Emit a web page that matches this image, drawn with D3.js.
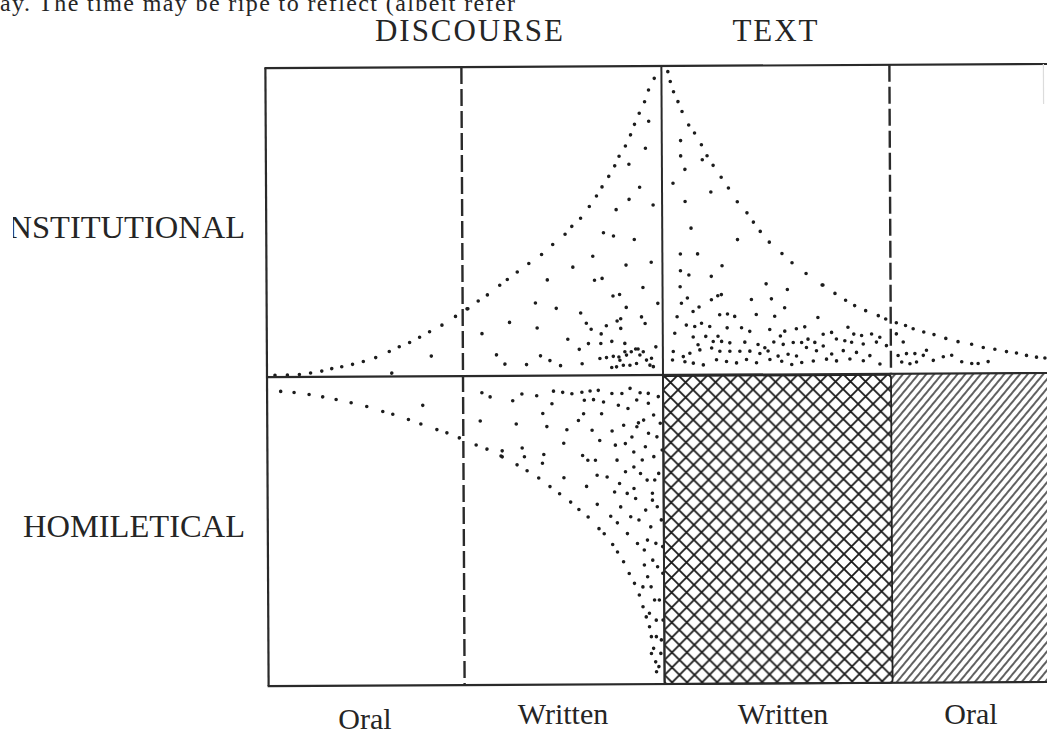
<!DOCTYPE html>
<html>
<head>
<meta charset="utf-8">
<script src="https://cdn.jsdelivr.net/npm/d3@7"></script>
<style>
  html, body { margin: 0; padding: 0; background: #fff; overflow: hidden; }
  svg { display: block; }
  text { font-family: "Liberation Serif", "DejaVu Serif", serif; fill: #252525; }
</style>
</head>
<body>
<div id="graphic"></div>
<script>
// labels
var headerLabels = ["DISCOURSE", "TEXT"];
var rowLabels = ["INSTITUTIONAL", "HOMILETICAL"];
var columnLabels = ["Oral", "Written", "Written", "Oral"];
var runningText = "ay. The time may be ripe to reflect (albeit refer";

// column edges in diagram units (center line = 0), rows go from -103 to 103
var columnEdges = [-99, -50, 0, 57, 97];

// dotted envelopes [x, y]
var instDiscourseEdge = [[-97,0.6],[-93.9,0.6],[-90.9,0.8],[-88.1,1.3],[-85.3,1.9],[-82.8,2.7],[-80.3,3.3],[-77.6,4.1],[-74.9,5],[-71.8,6.3],[-68.4,8.3],[-65.9,9.9],[-63.3,11.3],[-60.8,13],[-58.3,14.8],[-55.2,17],[-51.8,19.9],[-48.7,22.4],[-46.1,25],[-43.8,27],[-40.7,30.2],[-38.8,32.1],[-36.3,34.6],[-33.4,37.4],[-30.2,40.4],[-27.4,43.7],[-24.3,47.1],[-22.6,49.7],[-20.4,52.4],[-18.2,56.3],[-16.4,59.8],[-15,62.8],[-13.3,66.3],[-11.8,69.8],[-10.7,73],[-9.1,76.4],[-7.8,80.1],[-6.8,83.6],[-5.6,87.3],[-4.25,91.1],[-3.25,95],[-1.8,98.9]];
var instTextEdge = [[1.6,101.1],[2.2,97.8],[3,94.4],[4.1,91.1],[5.1,87.8],[6.75,83.3],[8.2,80.6],[9.9,76.7],[11.3,73],[12.8,69.8],[14.8,65.8],[16.6,62.2],[18.8,57.6],[21.2,53.9],[22.8,50.8],[24.5,47.7],[26.75,44.1],[29.9,40.3],[32.4,37.2],[35.9,33.6],[39.9,29.7],[43.1,26.9],[45.75,24.6],[48,22.8],[50.75,21.1],[53.9,19.4],[55.75,18.3],[58.4,17],[60.7,16.1],[62.6,15],[65.25,13.9],[67.8,13],[70.75,11.7],[73.8,10.6],[77.2,9.7],[80.1,8.6],[83,8],[85.9,7.2],[88.4,6.7],[90.9,5.9],[93.4,5.3],[95.5,5]];
var homDiscourseEdge = [[-95.6,-4.8],[-92.25,-5.2],[-88.5,-5.9],[-85.1,-6.7],[-81.75,-7.6],[-78,-8.7],[-74.1,-10],[-70.1,-11.7],[-67.6,-12.6],[-63.7,-14.4],[-60.6,-15.9],[-56.6,-17.8],[-54.1,-18.9],[-51,-20.6],[-46.8,-23],[-44.1,-24.4],[-40.6,-26.7],[-36.6,-29.7],[-34.1,-31.7],[-31.2,-34.1],[-28.4,-37],[-26,-39.4],[-23.25,-42.2],[-21.2,-44.7],[-18.9,-47.2],[-16.2,-51.1],[-14.9,-52.8],[-12.8,-56.4],[-11.6,-58.9],[-10.1,-62.2],[-8.7,-66.1],[-7.4,-69.4],[-6.2,-73.3],[-5.3,-77.2],[-4.5,-80.6],[-3.7,-83.9],[-3.25,-87.2],[-2.7,-91.1],[-2.2,-95.6],[-2,-98.9]];

// scattered dots inside the envelopes
var instDiscourseDots = [[-57.9,6.7],[-67.8,1.1],[-48.9,22.4],[-45.2,14.1],[-41.6,7],[-39.5,3.9],[-38.3,17.8],[-34.1,3.7],[-31.8,24.2],[-31.4,15.9],[-30.6,6.6],[-28.8,31.9],[-28.25,5],[-26.6,22.4],[-25.6,3.3],[-23.75,12.1],[-22.4,36.1],[-20.9,8.7],[-20.5,20.8],[-20.2,3.9],[-18.6,10.6],[-19.1,17.4],[-17.4,39.7],[-17,31.7],[-17.9,15.4],[-15.4,13.8],[-15.5,10.6],[-15.1,32.3],[-14.7,47.5],[-14.1,16.5],[-12.75,11.3],[-12.4,26.4],[-12.2,46.4],[-11.5,55.2],[-11.4,18.1],[-10.75,26.9],[-10.5,15.6],[-10.5,18.8],[-9.5,10.6],[-9.1,36.7],[-9.1,22.6],[-8.25,70.3],[-8.25,58.6],[-7,45.2],[-6.8,8.7],[-6.2,8.7],[-5.6,62.6],[-5.3,19.4],[-4.9,29.2],[-4.4,17.2],[-4.1,75.6],[-3.25,84.6],[-2.8,37.6],[-2.25,56.7],[-1.2,23.9],[-1.75,9.4],[-5.75,6.7],[-6.6,3.9],[-8.25,3.3],[-9.9,3.3],[-11.6,2.8],[-12.8,2.6],[-14.1,5.9],[-15.75,5.6],[-12.4,6.3],[-10.75,5],[-4.1,5],[-2.85,5.6],[-2.4,2.8],[-3.25,3.3],[-4.9,7.8],[-7.9,7.8],[-9.1,6.7],[-11,6.1],[-9.5,7.8]];
var instTextDots = [[4.7,78.1],[4.7,73],[5.75,68.5],[2.75,63.9],[12.2,60.9],[10.1,71.7],[5.75,57.8],[7.2,48.9],[18.8,45],[4.5,40.3],[8.8,40.3],[14.9,36.3],[4.5,34.7],[6.6,33.3],[12.2,32.8],[4.4,29.4],[6.2,25.6],[4.7,23.9],[12.2,25],[13.8,26.3],[14.7,26.7],[25.9,30.2],[31.2,28.3],[22.2,25],[27.2,25.2],[30.5,22.2],[7.6,21.1],[9.1,22.6],[14.25,20],[16.2,20.2],[18,19.4],[23.4,20],[28,19.4],[40.1,29.7],[38.8,18.9],[35.5,15.8],[33.4,15.2],[30.5,14.4],[29.4,12.8],[26.75,15],[21.75,14.4],[19.7,15.6],[16.1,15.6],[13.8,12.8],[11.75,16.1],[9.7,17.2],[8,16.1],[5.9,16.6],[3.6,19.4],[3,13.9],[7.6,12.6],[8.8,10],[10.75,12.8],[12.6,11.1],[14.7,11.1],[16.75,10.6],[20.5,10.8],[23.8,10],[25.5,8.9],[27.75,10.8],[30.1,10],[32.6,10.6],[34.7,10.6],[36.3,11.7],[38,10.6],[40.1,13.3],[42.2,13.9],[43.4,11.7],[46.3,15.6],[47.75,13.3],[49.7,12.8],[52.2,13.3],[54.25,12.2],[55.9,9.4],[53.4,10.6],[50.1,10],[47.2,10.6],[45.5,11.1],[40.1,9.4],[38.4,7.8],[35.9,8.9],[33.4,6.1],[31.3,6.7],[28.8,6.1],[26.3,7.8],[24.25,7],[21.75,7.8],[19.25,7.8],[16.75,7.8],[14.25,7.8],[12.2,8.9],[9.25,8.3],[6.75,7.2],[5.1,6.1],[2.6,7.8],[2.4,5],[5.5,4.4],[7.6,3.9],[10.1,3.3],[13.4,5],[15.9,4.4],[18.4,3.9],[20.9,5],[23.4,3.9],[26.75,5],[29.7,4.4],[32.2,3.3],[34.7,3.9],[37.6,4.4],[40.9,5],[43.4,4.4],[46.75,5],[50.1,4.4],[54.25,3.3],[51.75,6.1],[48.4,7.2],[45.1,7.8],[42.2,6.7],[58.4,13.3],[60.1,10.6],[58.8,6.1],[60.9,6.7],[63,6.7],[63.4,3.9],[65.9,7.8],[67.6,4.4],[70.1,5.6],[72.2,6.1],[74.7,3.9],[77.2,3.3],[78.8,3.3],[81.3,3.9],[59.7,3.9],[61.75,3.3],[65.1,6.1]];
var homDiscourseDots = [[-60.1,-9.7],[-45.3,-5.6],[-43.25,-7],[-45.75,-15],[-40.3,-25],[-40.3,-27],[-37.6,-8.3],[-36.75,-16.1],[-35.3,-6.1],[-35.3,-24.1],[-34.75,-27],[-31.6,-6.7],[-30.1,-12.6],[-29.9,-26.3],[-30.25,-29.2],[-29.1,-17],[-27.8,-9.4],[-27.4,-5.2],[-25.1,-5.6],[-24.9,-22.6],[-24.9,-34.1],[-24.1,-18.1],[-22.8,-6.1],[-21.2,-15],[-20.3,-5.6],[-20.2,-26.7],[-19.9,-12.8],[-19.7,-8.3],[-19.25,-37],[-18.9,-28.3],[-18.25,-5.2],[-17.8,-18.3],[-17.4,-8.1],[-17,-28.3],[-16.6,-33.3],[-16.6,-43],[-16.2,-5],[-15.9,-21.7],[-15.4,-12.8],[-14.9,-8.9],[-14.1,-33.9],[-13.25,-47],[-12.8,-6.1],[-12.8,-18.6],[-12.25,-38.9],[-12,-23.3],[-11.6,-28.3],[-11.2,-10],[-11.6,-49.2],[-10.75,-43.9],[-10.3,-6.1],[-9.9,-16.7],[-9.5,-32.2],[-9.1,-52.8],[-8.8,-11.1],[-8.25,-4.4],[-7.85,-20.6],[-7.4,-25.6],[-7.4,-37.8],[-7,-41.1],[-6.6,-56.1],[-6.2,-15.9],[-5.75,-5.9],[-5.75,-32.8],[-5.3,-28.3],[-4.9,-63.3],[-4.5,-23.9],[-4.5,-45],[-4.1,-35],[-3.7,-9.4],[-3.7,-19.4],[-3.25,-50.6],[-3.25,-70.6],[-2.8,-39.4],[-2.4,-13.3],[-2.4,-27.2],[-2,-56.1],[-2,-81.7],[-1.6,-20.6],[-1.6,-43.9],[-1.6,-63.9],[-1.2,-32.8],[-1.2,-75],[-0.9,-92.8],[-0.75,-16.1],[-0.6,-48.3],[-2.8,-61.7],[-4.1,-67.2],[-2.4,-75],[-3.7,-79.4],[-2,-87.2],[-0.75,-88.3],[-3.25,-92.8],[-1.4,-97.2],[-4.9,-58.3],[-6.2,-48.3],[-8.25,-47.2],[-9.1,-39.4],[-11,-36.1],[-6.6,-17.2],[-3.7,-6.1],[-1.2,-7.2],[-0.3,-25],[-0.3,-57.2],[-0.3,-66.1],[-0.3,-81.7],[-2.8,-41.7],[-5.3,-70.6],[-4.1,-55],[-2.2,-35],[-7.4,-30.6],[-9.5,-22.8],[-6.6,-8.3],[-4.9,-15]];

var width = 1047, height = 735;

var x = d3.scaleLinear().domain([-100, 100]).range([263, 1063]);
var y = d3.scaleLinear().domain([-103, 103]).range([684, 66]);

var svg = d3.select("#graphic").append("svg")
    .attr("width", width)
    .attr("height", height);

var defs = svg.append("defs");

// cross hatching (written text / homiletical)
var cross = defs.append("pattern")
    .attr("id", "cross")
    .attr("patternUnits", "userSpaceOnUse")
    .attr("width", 15).attr("height", 15)
    .attr("x", x(0)).attr("y", y(0));
cross.append("path")
    .attr("d", "M-1,-1L16,16M16,-1L-1,16")
    .attr("stroke", "#1a1a1a").attr("stroke-width", 1.8).attr("fill", "none");

// single hatching (oral text / homiletical)
var hatch = defs.append("pattern")
    .attr("id", "hatch")
    .attr("patternUnits", "userSpaceOnUse")
    .attr("width", 6).attr("height", 10)
    .attr("patternTransform", "rotate(40)");
hatch.append("line")
    .attr("x1", 3).attr("y1", -1).attr("x2", 3).attr("y2", 11)
    .attr("stroke", "#1e1e1e").attr("stroke-width", 1.4);

defs.append("clipPath").attr("id", "page-edge")
  .append("rect").attr("x", 13).attr("y", 0).attr("width", width).attr("height", height);

// the scan is a touch rotated
var g = svg.append("g").attr("transform", "rotate(-0.3," + x(0) + "," + y(0) + ")");

var yTop = y(103), yMid = y(0), yBottom = y(-103);

// 1. shaded cells
g.append("rect")
    .attr("x", x(columnEdges[3])).attr("y", yMid)
    .attr("width", x(columnEdges[4] + 6) - x(columnEdges[3]))
    .attr("height", yBottom - yMid)
    .style("fill", "url(#hatch)");

g.append("rect")
    .attr("x", x(columnEdges[2])).attr("y", yMid + 1)
    .attr("width", x(columnEdges[3]) - x(columnEdges[2]))
    .attr("height", yBottom - yMid - 1)
    .attr("rx", 3)
    .style("fill", "url(#cross)")
    .style("stroke", "#222").style("stroke-width", 1.8);

// 2. stipple
var allDots = [].concat(instDiscourseEdge, instTextEdge, homDiscourseEdge,
                        instDiscourseDots, instTextDots, homDiscourseDots);
g.selectAll("circle.dot").data(allDots).enter().append("circle")
    .attr("class", "dot")
    .attr("cx", d => x(d[0]))
    .attr("cy", d => y(d[1]))
    .attr("r", 1.8)
    .style("fill", "#1c1c1c");

// 3. frame
var lineStyle = function(sel, w) {
    return sel.style("stroke", "#2a2a2a").style("stroke-width", w).style("fill", "none");
};
[yTop, yMid, yBottom].forEach(function(yy) {
    lineStyle(g.append("line")
        .attr("x1", x(columnEdges[0]) - 1).attr("x2", x(columnEdges[4] + 6))
        .attr("y1", yy).attr("y2", yy), 2.2);
});
lineStyle(g.append("line")
    .attr("x1", x(columnEdges[0])).attr("x2", x(columnEdges[0]))
    .attr("y1", yTop).attr("y2", yBottom), 2.2);
lineStyle(g.append("line")
    .attr("x1", x(columnEdges[2])).attr("x2", x(columnEdges[2]))
    .attr("y1", yTop).attr("y2", yBottom), 2);
lineStyle(g.append("line")
    .attr("x1", x(columnEdges[1])).attr("x2", x(columnEdges[1]))
    .attr("y1", yTop).attr("y2", yBottom), 2.4)
    .style("stroke-dasharray", "17,5");
lineStyle(g.append("line")
    .attr("x1", x(columnEdges[3])).attr("x2", x(columnEdges[3]))
    .attr("y1", yTop).attr("y2", yMid), 2.4)
    .style("stroke-dasharray", "17,5");
lineStyle(g.append("line")
    .attr("x1", x(columnEdges[4]) - 6).attr("x2", x(columnEdges[4]) - 6)
    .attr("y1", yTop).attr("y2", yTop + 40), 1.2)
    .style("stroke", "#dcdcdc");

// 4. text
svg.append("text")
    .attr("x", 0).attr("y", 11)
    .attr("textLength", 515)
    .style("font-size", "24px")
    .text(runningText);

var headerX = [(x(columnEdges[0]) + x(columnEdges[2])) / 2 + 4, (x(columnEdges[2]) + x(columnEdges[3])) / 2 - 2];
var headerW = [188, 85];
svg.selectAll("text.header").data(headerLabels).enter().append("text")
    .attr("class", "header")
    .attr("x", (d, i) => headerX[i])
    .attr("y", 41)
    .attr("text-anchor", "middle")
    .attr("textLength", (d, i) => headerW[i])
    .attr("lengthAdjust", "spacing")
    .style("font-size", "31px")
    .text(d => d);

var rowY = [y(51.5) + 17, y(-51.5) + 7];
svg.selectAll("text.row").data(rowLabels).enter().append("text")
    .attr("class", "row")
    .attr("x", 245)
    .attr("y", (d, i) => rowY[i])
    .attr("text-anchor", "end")
    .attr("clip-path", "url(#page-edge)")
    .style("font-size", "32.5px")
    .text(d => d);

var colY = [729, 724, 724, 724];
svg.selectAll("text.col").data(columnLabels).enter().append("text")
    .attr("class", "col")
    .attr("x", (d, i) => (x(columnEdges[i]) + x(columnEdges[i + 1])) / 2 + (i === 2 ? 6 : 0))
    .attr("y", (d, i) => colY[i])
    .attr("text-anchor", "middle")
    .style("font-size", "30px")
    .text(d => d);
</script>
</body>
</html>
